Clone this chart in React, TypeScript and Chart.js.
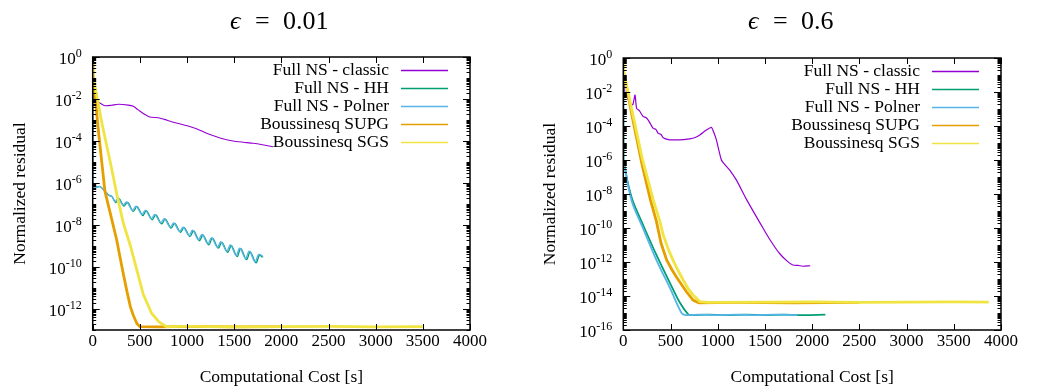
import React, { useEffect, useRef } from "react";
import { Chart, registerables } from "chart.js";

Chart.register(...registerables);

const FONT = "'Liberation Serif', 'DejaVu Serif', 'Times New Roman', serif";

const seriesLabels = ["Full NS - classic", "Full NS - HH", "Full NS - Polner", "Boussinesq SUPG", "Boussinesq SGS"];
const seriesColors = ["#9400d3", "#009e73", "#56b4e9", "#e69f00", "#f0e442"];
const leftWidths = [1.1, 1.3, 1.3, 2.8, 2.8];
const rightWidths = [1.2, 1.8, 1.8, 2.8, 2.8];
const seriesTension = [0.2, 0.35, 0.35, 0, 0];

const xTickValues = [0, 500, 1000, 1500, 2000, 2500, 3000, 3500, 4000];
const leftYLabelExps = [0, -2, -4, -6, -8, -10, -12];
const rightYLabelExps = [0, -2, -4, -6, -8, -10, -12, -14, -16];

// ---- left panel (epsilon = 0.01): x = cost [s], e = exponent of 10 of residual ----
const classicLX = [0, 8, 24, 80, 130, 200, 271, 377, 430, 483, 540, 606, 695, 760, 836, 920, 1012, 1100, 1188, 1312, 1400, 1488, 1600, 1700, 1800, 1911];
const classicLE = [0, -2.0, -2.05, -2.2, -2.32, -2.3, -2.25, -2.29, -2.35, -2.52, -2.7, -2.86, -2.89, -2.97, -3.08, -3.18, -3.29, -3.42, -3.59, -3.8, -3.92, -4.0, -4.06, -4.11, -4.18, -4.27];

const hhLX = [0, 2, 10, 40, 80, 125, 170, 205, 245, 280, 330, 370, 430, 470, 530, 570, 630, 670, 730, 770, 830, 870, 930, 970, 1030, 1070, 1130, 1170, 1230, 1270, 1330, 1370, 1430, 1470, 1530, 1570, 1630, 1670, 1730, 1770, 1800];
const hhLE = [0, -6.0, -6.25, -6.2, -6.18, -6.37, -6.58, -6.65, -6.93, -6.74, -7.1, -6.92, -7.35, -7.12, -7.55, -7.32, -7.75, -7.52, -7.95, -7.72, -8.15, -7.92, -8.35, -8.12, -8.55, -8.28, -8.75, -8.48, -8.95, -8.63, -9.1, -8.83, -9.3, -8.98, -9.5, -9.13, -9.65, -9.28, -9.8, -9.43, -9.55];

const polnerLX = [0, 2, 10, 40, 77, 120, 165, 200, 236, 270, 320, 360, 420, 460, 520, 560, 620, 660, 720, 760, 820, 860, 920, 960, 1020, 1060, 1120, 1160, 1220, 1260, 1320, 1360, 1420, 1460, 1520, 1560, 1620, 1660, 1720, 1760, 1810];
const polnerLE = [0, -6.0, -6.25, -6.2, -6.17, -6.35, -6.57, -6.62, -6.89, -6.72, -7.05, -6.9, -7.3, -7.1, -7.5, -7.3, -7.7, -7.5, -7.9, -7.7, -8.1, -7.9, -8.3, -8.1, -8.5, -8.25, -8.7, -8.45, -8.9, -8.6, -9.05, -8.8, -9.25, -8.95, -9.45, -9.1, -9.6, -9.25, -9.75, -9.4, -9.5];

const supgLX = [0, 3, 60, 130, 200, 254, 310, 360, 400, 430, 470, 500, 700, 1000, 1500, 2000];
const supgLE = [0, -0.8, -3.5, -6.4, -7.7, -8.7, -10.0, -11.1, -11.9, -12.3, -12.7, -12.84, -12.85, -12.83, -12.85, -12.84];

const sgsLX = [0, 3, 100, 200, 254, 324, 400, 448, 536, 624, 700, 780, 1000, 1500, 2000, 2500, 3000, 3500];
const sgsLE = [0, -0.9, -3.2, -5.3, -6.5, -7.9, -9.0, -9.8, -11.3, -12.2, -12.6, -12.84, -12.83, -12.85, -12.84, -12.83, -12.85, -12.84];

// ---- right panel (epsilon = 0.6) ----
const classicRX = [0, 15, 40, 71, 100, 124, 141, 170, 211, 240, 264, 290, 317, 345, 370, 400, 422, 480, 564, 640, 704, 760, 810, 880, 933, 960, 986, 1039, 1080, 1127, 1200, 1303, 1479, 1560, 1655, 1742, 1795, 1850, 1900, 1980];
const classicRE = [0, -2.0, -2.3, -2.66, -2.75, -2.18, -2.96, -3.1, -3.45, -3.5, -3.65, -3.9, -4.14, -4.2, -4.43, -4.5, -4.69, -4.8, -4.82, -4.8, -4.76, -4.68, -4.53, -4.24, -4.08, -4.4, -4.82, -6.0, -6.3, -6.59, -7.2, -8.3, -10.0, -10.75, -11.5, -11.98, -12.18, -12.2, -12.25, -12.22];

const hhRX = [0, 2, 20, 50, 100, 200, 352, 500, 600, 690, 720, 900, 1100, 1300, 1500, 1700, 1900, 2140];
const hhRE = [0, -6.0, -6.5, -7.4, -8.4, -9.7, -11.6, -13.3, -14.4, -15.1, -15.12, -15.1, -15.13, -15.1, -15.12, -15.1, -15.12, -15.1];

const polnerRX = [0, 2, 20, 50, 100, 200, 352, 500, 617, 660, 800, 1000, 1200, 1400, 1600, 1844];
const polnerRE = [0, -6.2, -6.6, -7.5, -8.6, -9.9, -11.9, -13.6, -15.0, -15.12, -15.1, -15.13, -15.1, -15.12, -15.1, -15.12];

const supgRX = [0, 3, 100, 200, 290, 350, 400, 460, 520, 564, 620, 669, 739, 800, 1200, 1800, 2500];
const supgRE = [0, -0.8, -3.6, -6.3, -8.4, -9.6, -10.9, -11.9, -12.5, -12.9, -13.35, -13.75, -14.24, -14.4, -14.38, -14.4, -14.38];

const sgsRX = [0, 3, 100, 200, 317, 387, 422, 480, 528, 580, 634, 690, 739, 810, 900, 1500, 2000, 2500, 3000, 3500, 3870];
const sgsRE = [0, -0.8, -3.3, -5.9, -8.35, -9.6, -10.4, -11.3, -11.9, -12.5, -13.06, -13.6, -13.94, -14.33, -14.37, -14.36, -14.35, -14.37, -14.36, -14.35, -14.36];

type Panel = {
  title: string;
  yMinExp: number;
  yLabelExps: number[];
  series: [number[], number[]][];
  widths: number[];
  width: number;
  axisLeft: number;
  padTop: number;
  padRight: number;
};

const panels: Panel[] = [
  {
    title: "0.01",
    yMinExp: -13,
    yLabelExps: leftYLabelExps,
    series: [[classicLX, classicLE], [hhLX, hhLE], [polnerLX, polnerLE], [supgLX, supgLE], [sgsLX, sgsLE]],
    widths: leftWidths,
    width: 518,
    axisLeft: 92.7,
    padTop: 57,
    padRight: 48,
  },
  {
    title: "0.6",
    yMinExp: -16,
    yLabelExps: rightYLabelExps,
    series: [[classicRX, classicRE], [hhRX, hhRE], [polnerRX, polnerRE], [supgRX, supgRE], [sgsRX, sgsRE]],
    widths: rightWidths,
    width: 519,
    axisLeft: 105.3,
    padTop: 58,
    padRight: 36,
  },
];

const HEIGHT = 389;

const decorPlugin = {
  id: "decor",
  afterDraw(chart: any, _args: any, opts: any) {
    const p: Panel = opts.panel;
    const { ctx, chartArea: a } = chart;
    const xs = chart.scales.x;
    const ys = chart.scales.y;
    ctx.save();
    const line = (x1: number, y1: number, x2: number, y2: number) => {
      ctx.beginPath();
      ctx.moveTo(x1, y1);
      ctx.lineTo(x2, y2);
      ctx.stroke();
    };
    ctx.strokeStyle = "#000";
    ctx.fillStyle = "#000";
    // ticks
    ctx.lineWidth = 1;
    for (const v of xTickValues) {
      const px = Math.round(xs.getPixelForValue(v)) + 0.5;
      line(px, a.bottom, px, a.bottom - 6);
      line(px, a.top, px, a.top + 6);
    }
    for (let n = p.yMinExp; n <= 0; n++) {
      for (let k = 1; k <= 9; k++) {
        const v = k * Math.pow(10, n);
        if (v > 1.0000001) break;
        const py = Math.round(ys.getPixelForValue(v)) + 0.5;
        const major = k === 1 && n % 2 === 0;
        const len = major ? 7 : 3.5;
        line(a.left, py, a.left + len, py);
        line(a.right, py, a.right - len, py);
      }
    }
    // frame
    ctx.lineWidth = 1.5;
    ctx.strokeRect(a.left, a.top, a.right - a.left, a.bottom - a.top);

    // x tick labels
    ctx.font = `17px ${FONT}`;
    ctx.textAlign = "center";
    ctx.textBaseline = "middle";
    for (const v of xTickValues) {
      ctx.fillText(String(v), xs.getPixelForValue(v), a.bottom + 12);
    }
    // y tick labels 10^n
    for (const n of p.yLabelExps) {
      const py = ys.getPixelForValue(Math.pow(10, n));
      const right = a.left - 11;
      const exp = n === 0 ? "0" : "-" + String(-n);
      ctx.font = `12px ${FONT}`;
      ctx.textAlign = "right";
      ctx.textBaseline = "middle";
      ctx.fillText(exp, right, py - 3);
      const ew = ctx.measureText(exp).width;
      ctx.font = `17px ${FONT}`;
      ctx.fillText("10", right - ew, py + 3);
    }
    // axis titles
    ctx.font = `17.5px ${FONT}`;
    ctx.textAlign = "center";
    ctx.textBaseline = "middle";
    ctx.fillText("Computational Cost [s]", (a.left + a.right) / 2, 377);
    ctx.save();
    ctx.translate(a.left - 72.5, (a.top + a.bottom) / 2);
    ctx.rotate(-Math.PI / 2);
    ctx.fillText("Normalized residual", 0, 0);
    ctx.restore();

    // panel title
    ctx.textAlign = "left";
    ctx.textBaseline = "alphabetic";
    ctx.font = `italic 26px ${FONT}`;
    ctx.fillText("\u03f5", 230, 29);
    ctx.font = `26px ${FONT}`;
    ctx.fillText("=", 255, 29);
    ctx.fillText(p.title, 283, 29);

    // legend
    ctx.font = `17.5px ${FONT}`;
    ctx.textAlign = "right";
    ctx.textBaseline = "middle";
    chart.data.datasets.forEach((ds: any, i: number) => {
      const ry = a.top + 13.5 + i * 18;
      ctx.fillStyle = "#000";
      ctx.fillText(ds.label, a.right - 81, ry);
      ctx.strokeStyle = ds.borderColor;
      ctx.lineWidth = 1.3;
      line(a.right - 69, ry, a.right - 22, ry);
    });
    ctx.restore();
  },
};

function buildConfig(p: Panel): any {
  const count = p.series.length;
  return {
    type: "line",
    data: {
      datasets: p.series.map(([xs, es], i) => ({
        label: seriesLabels[i],
        data: xs.map((x, j) => ({ x, y: Math.pow(10, es[j]) })),
        borderColor: seriesColors[i],
        backgroundColor: seriesColors[i],
        borderWidth: p.widths[i],
        pointRadius: 0,
        tension: seriesTension[i],
        fill: false,
        // later series are drawn on top (as in the reference)
        order: count - 1 - i,
      })),
    },
    options: {
      animation: false,
      responsive: false,
      devicePixelRatio: 1,
      layout: { padding: { top: p.padTop, right: p.padRight, left: 0, bottom: 0 } },
      plugins: {
        legend: { display: false },
        tooltip: { enabled: false },
        title: { display: false },
        decor: { panel: p },
      },
      scales: {
        x: {
          type: "linear",
          min: 0,
          max: 4000,
          grid: { display: false },
          border: { display: false },
          ticks: { display: false },
          afterFit: (s: any) => {
            s.height = HEIGHT - 330;
          },
        },
        y: {
          type: "logarithmic",
          min: Math.pow(10, p.yMinExp),
          max: 1,
          grid: { display: false },
          border: { display: false },
          ticks: { display: false },
          afterFit: (s: any) => {
            s.width = p.axisLeft;
          },
        },
      },
    },
    plugins: [decorPlugin],
  };
}

function PanelChart({ panel, left }: { panel: Panel; left: number }) {
  const ref = useRef<HTMLCanvasElement | null>(null);
  useEffect(() => {
    if (!ref.current) return;
    const chart = new Chart(ref.current, buildConfig(panel));
    return () => chart.destroy();
  }, [panel]);
  return (
    <canvas
      ref={ref}
      width={panel.width}
      height={HEIGHT}
      style={{ position: "absolute", left, top: 0, width: panel.width, height: HEIGHT }}
    />
  );
}

export default function App() {
  return (
    <div style={{ position: "fixed", left: 0, top: 0, width: 1037, height: HEIGHT, background: "#fff" }}>
      <PanelChart panel={panels[0]} left={0} />
      <PanelChart panel={panels[1]} left={518} />
    </div>
  );
}
